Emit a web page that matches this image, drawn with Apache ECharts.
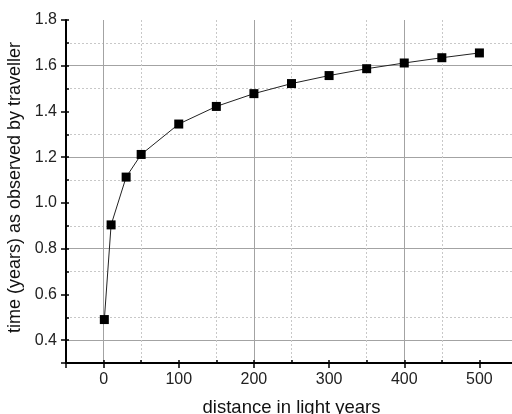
<!DOCTYPE html>
<html>
<head>
<meta charset="utf-8">
<script src="https://cdn.jsdelivr.net/npm/echarts@6/dist/echarts.min.js"></script>
<style>
  html, body { margin: 0; padding: 0; background: #fff; }
  #chart { width: 512px; height: 414px; }
</style>
</head>
<body>
<div id="chart"></div>
<script>
// distance in light years
const distances = [1, 10, 30, 50, 100, 150, 200, 250, 300, 350, 400, 450, 500];
// time (years) as observed by traveller
const times = [0.49, 0.904, 1.113, 1.212, 1.345, 1.422, 1.478, 1.522, 1.557, 1.587, 1.612, 1.635, 1.656];
// labelled (major) ticks
const xTickLabels = [0, 100, 200, 300, 400, 500];
const yTickLabels = [0.4, 0.6, 0.8, 1.0, 1.2, 1.4, 1.6, 1.8];

const FONT = 'Liberation Sans, Arial, sans-serif';
const MAJOR = '#a3a3a3';
const MINOR = '#c8c8c8';

const chart = echarts.init(document.getElementById('chart'), null, { renderer: 'canvas' });

const isXLabel = v => xTickLabels.some(t => Math.abs(t - v) < 1e-6);
const isYLabel = v => yTickLabels.some(t => Math.abs(t - v) < 1e-6);

chart.setOption({
  animation: false,
  grid: { left: 66, top: 20, right: -5, bottom: 51, containLabel: false, outerBoundsMode: 'none' },
  xAxis: [
    {
      // major: solid grid, labels, outward ticks
      type: 'value', min: -50, max: 550, interval: 50,
      name: 'distance in light years', nameLocation: 'middle', nameGap: 35,
      nameTextStyle: { fontFamily: FONT, fontSize: 18.5, color: '#111' },
      axisLine: { show: true, onZero: false, lineStyle: { color: '#000', width: 2 } },
      axisTick: { show: true, inside: false, length: 5, customValues: [-50].concat(xTickLabels), lineStyle: { color: '#000', width: 1.5 } },
      axisLabel: {
        fontFamily: FONT, fontSize: 16, color: '#222', margin: 9,
        formatter: v => (isXLabel(v) ? String(v) : '')
      },
      splitLine: { show: true, lineStyle: { color: ['transparent', MAJOR], width: 1, type: 'solid' } }
    },
    {
      // minor: dotted grid, short inward ticks
      type: 'value', min: -50, max: 550, interval: 50, position: 'bottom',
      axisLine: { show: false, onZero: false },
      axisTick: { show: true, inside: true, length: 3, lineStyle: { color: '#000', width: 1.5 } },
      axisLabel: { show: false },
      splitLine: { show: true, lineStyle: { color: [MINOR, 'transparent'], width: 1, type: [2, 2] } }
    }
  ],
  yAxis: [
    {
      type: 'value', min: 0.3, max: 1.8, interval: 0.1,
      name: 'time (years) as observed by traveller', nameLocation: 'middle', nameGap: 36,
      nameTextStyle: { fontFamily: FONT, fontSize: 18, color: '#111', padding: [0, 0, 0, 8] },
      axisLine: { show: true, onZero: false, lineStyle: { color: '#000', width: 2 } },
      axisTick: { show: true, inside: false, length: 5, customValues: [0.3].concat(yTickLabels), lineStyle: { color: '#000', width: 1.5 } },
      axisLabel: {
        fontFamily: FONT, fontSize: 16, color: '#222', margin: 9,
        formatter: v => (isYLabel(v) ? v.toFixed(1) : '')
      },
      splitLine: { show: true, showMaxLine: false, lineStyle: { color: ['transparent', MAJOR], width: 1, type: 'solid' } }
    },
    {
      type: 'value', min: 0.3, max: 1.8, interval: 0.1, position: 'left',
      axisLine: { show: false, onZero: false },
      axisTick: { show: true, inside: true, length: 3, lineStyle: { color: '#000', width: 1.5 } },
      axisLabel: { show: false },
      splitLine: { show: true, showMaxLine: false, lineStyle: { color: [MINOR, 'transparent'], width: 1, type: [2, 2] } }
    }
  ],
  series: [
    {
      type: 'line',
      xAxisIndex: 0, yAxisIndex: 0,
      data: distances.map((d, i) => [d, times[i]]),
      symbol: 'rect', symbolSize: 9,
      itemStyle: { color: '#000' },
      lineStyle: { color: '#222', width: 1 },
      z: 5
    }
  ]
});
</script>
</body>
</html>
